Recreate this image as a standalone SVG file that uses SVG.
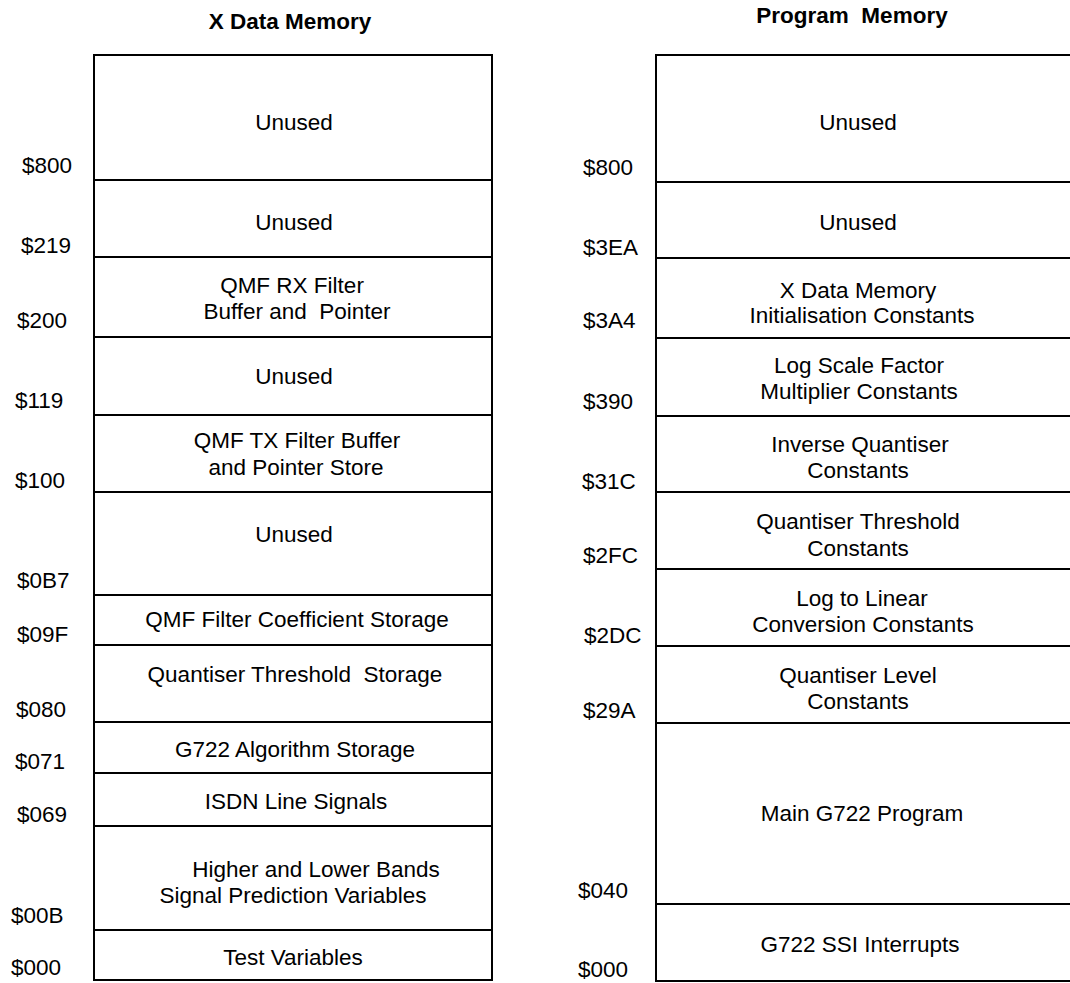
<svg xmlns="http://www.w3.org/2000/svg" width="1070" height="983" viewBox="0 0 1070 983">
<style>
.blk{fill:#fff;stroke:#000;stroke-width:2}
.t{font-family:"Liberation Sans",Arial,sans-serif;font-size:22.5px;fill:#000;text-anchor:middle}
.a{font-family:"Liberation Sans",Arial,sans-serif;font-size:22.5px;fill:#000}
.h{font-family:"Liberation Sans",Arial,sans-serif;font-size:22.5px;font-weight:bold;fill:#000;text-anchor:middle}
</style>
<rect width="1070" height="983" fill="#fff"/>
<text class="h" x="290" y="29">X Data Memory</text>
<text class="h" x="852" y="23" xml:space="preserve">Program  Memory</text>

<g id="xmem">
<g id="x-unused1"><rect class="blk" x="94" y="55" width="398" height="125"/><text class="t" x="294" y="130">Unused</text><text class="a" x="22" y="173">$800</text></g>
<g id="x-unused2"><rect class="blk" x="94" y="180" width="398" height="77"/><text class="t" x="294" y="230">Unused</text><text class="a" x="21" y="253">$219</text></g>
<g id="x-qmfrx"><rect class="blk" x="94" y="257" width="398" height="80"/><text class="t" x="292" y="293">QMF RX Filter</text><text class="t" x="297" y="319" xml:space="preserve">Buffer and  Pointer</text><text class="a" x="17" y="328">$200</text></g>
<g id="x-unused3"><rect class="blk" x="94" y="337" width="398" height="78"/><text class="t" x="294" y="384">Unused</text><text class="a" x="15" y="408">$119</text></g>
<g id="x-qmftx"><rect class="blk" x="94" y="415" width="398" height="77"/><text class="t" x="297" y="448">QMF TX Filter Buffer</text><text class="t" x="296" y="475">and Pointer Store</text><text class="a" x="15" y="488">$100</text></g>
<g id="x-unused4"><rect class="blk" x="94" y="492" width="398" height="103"/><text class="t" x="294" y="542">Unused</text><text class="a" x="17" y="588">$0B7</text></g>
<g id="x-qmfcoef"><rect class="blk" x="94" y="595" width="398" height="50"/><text class="t" x="297" y="627">QMF Filter Coefficient Storage</text><text class="a" x="17" y="642">$09F</text></g>
<g id="x-qthresh"><rect class="blk" x="94" y="645" width="398" height="77"/><text class="t" x="295" y="682" xml:space="preserve">Quantiser Threshold  Storage</text><text class="a" x="16" y="717">$080</text></g>
<g id="x-g722"><rect class="blk" x="94" y="722" width="398" height="51"/><text class="t" x="295" y="757">G722 Algorithm Storage</text><text class="a" x="15" y="769">$071</text></g>
<g id="x-isdn"><rect class="blk" x="94" y="773" width="398" height="53"/><text class="t" x="296" y="809">ISDN Line Signals</text><text class="a" x="17" y="822">$069</text></g>
<g id="x-bands"><rect class="blk" x="94" y="826" width="398" height="104"/><text class="t" x="316" y="877">Higher and Lower Bands</text><text class="t" x="293" y="903">Signal Prediction Variables</text><text class="a" x="11" y="923">$00B</text></g>
<g id="x-test"><rect class="blk" x="94" y="930" width="398" height="50"/><text class="t" x="293" y="965">Test Variables</text><text class="a" x="11" y="975">$000</text></g>
</g>

<g id="pmem">
<g id="p-unused1"><rect class="blk" x="656" y="55" width="430" height="127"/><text class="t" x="858" y="130">Unused</text><text class="a" x="583" y="175">$800</text></g>
<g id="p-unused2"><rect class="blk" x="656" y="182" width="430" height="76"/><text class="t" x="858" y="230">Unused</text><text class="a" x="583" y="255">$3EA</text></g>
<g id="p-xinit"><rect class="blk" x="656" y="258" width="430" height="80"/><text class="t" x="858" y="298">X Data Memory</text><text class="t" x="862" y="323">Initialisation Constants</text><text class="a" x="583" y="328">$3A4</text></g>
<g id="p-logscale"><rect class="blk" x="656" y="338" width="430" height="78"/><text class="t" x="859" y="373">Log Scale Factor</text><text class="t" x="859" y="399">Multiplier Constants</text><text class="a" x="583" y="409">$390</text></g>
<g id="p-invq"><rect class="blk" x="656" y="416" width="430" height="76"/><text class="t" x="860" y="452">Inverse Quantiser</text><text class="t" x="858" y="478">Constants</text><text class="a" x="582" y="489">$31C</text></g>
<g id="p-qthresh"><rect class="blk" x="656" y="492" width="430" height="77"/><text class="t" x="858" y="529">Quantiser Threshold</text><text class="t" x="858" y="556">Constants</text><text class="a" x="583" y="563">$2FC</text></g>
<g id="p-loglin"><rect class="blk" x="656" y="569" width="430" height="77"/><text class="t" x="862" y="606">Log to Linear</text><text class="t" x="863" y="632">Conversion Constants</text><text class="a" x="584" y="643">$2DC</text></g>
<g id="p-qlevel"><rect class="blk" x="656" y="646" width="430" height="77"/><text class="t" x="858" y="683">Quantiser Level</text><text class="t" x="858" y="709">Constants</text><text class="a" x="583" y="718">$29A</text></g>
<g id="p-main"><rect class="blk" x="656" y="723" width="430" height="181"/><text class="t" x="862" y="821">Main G722 Program</text><text class="a" x="578" y="898">$040</text></g>
<g id="p-ssi"><rect class="blk" x="656" y="904" width="430" height="77"/><text class="t" x="860" y="952">G722 SSI Interrupts</text><text class="a" x="578" y="977">$000</text></g>
</g>
<g id="connectors"/>
</svg>
